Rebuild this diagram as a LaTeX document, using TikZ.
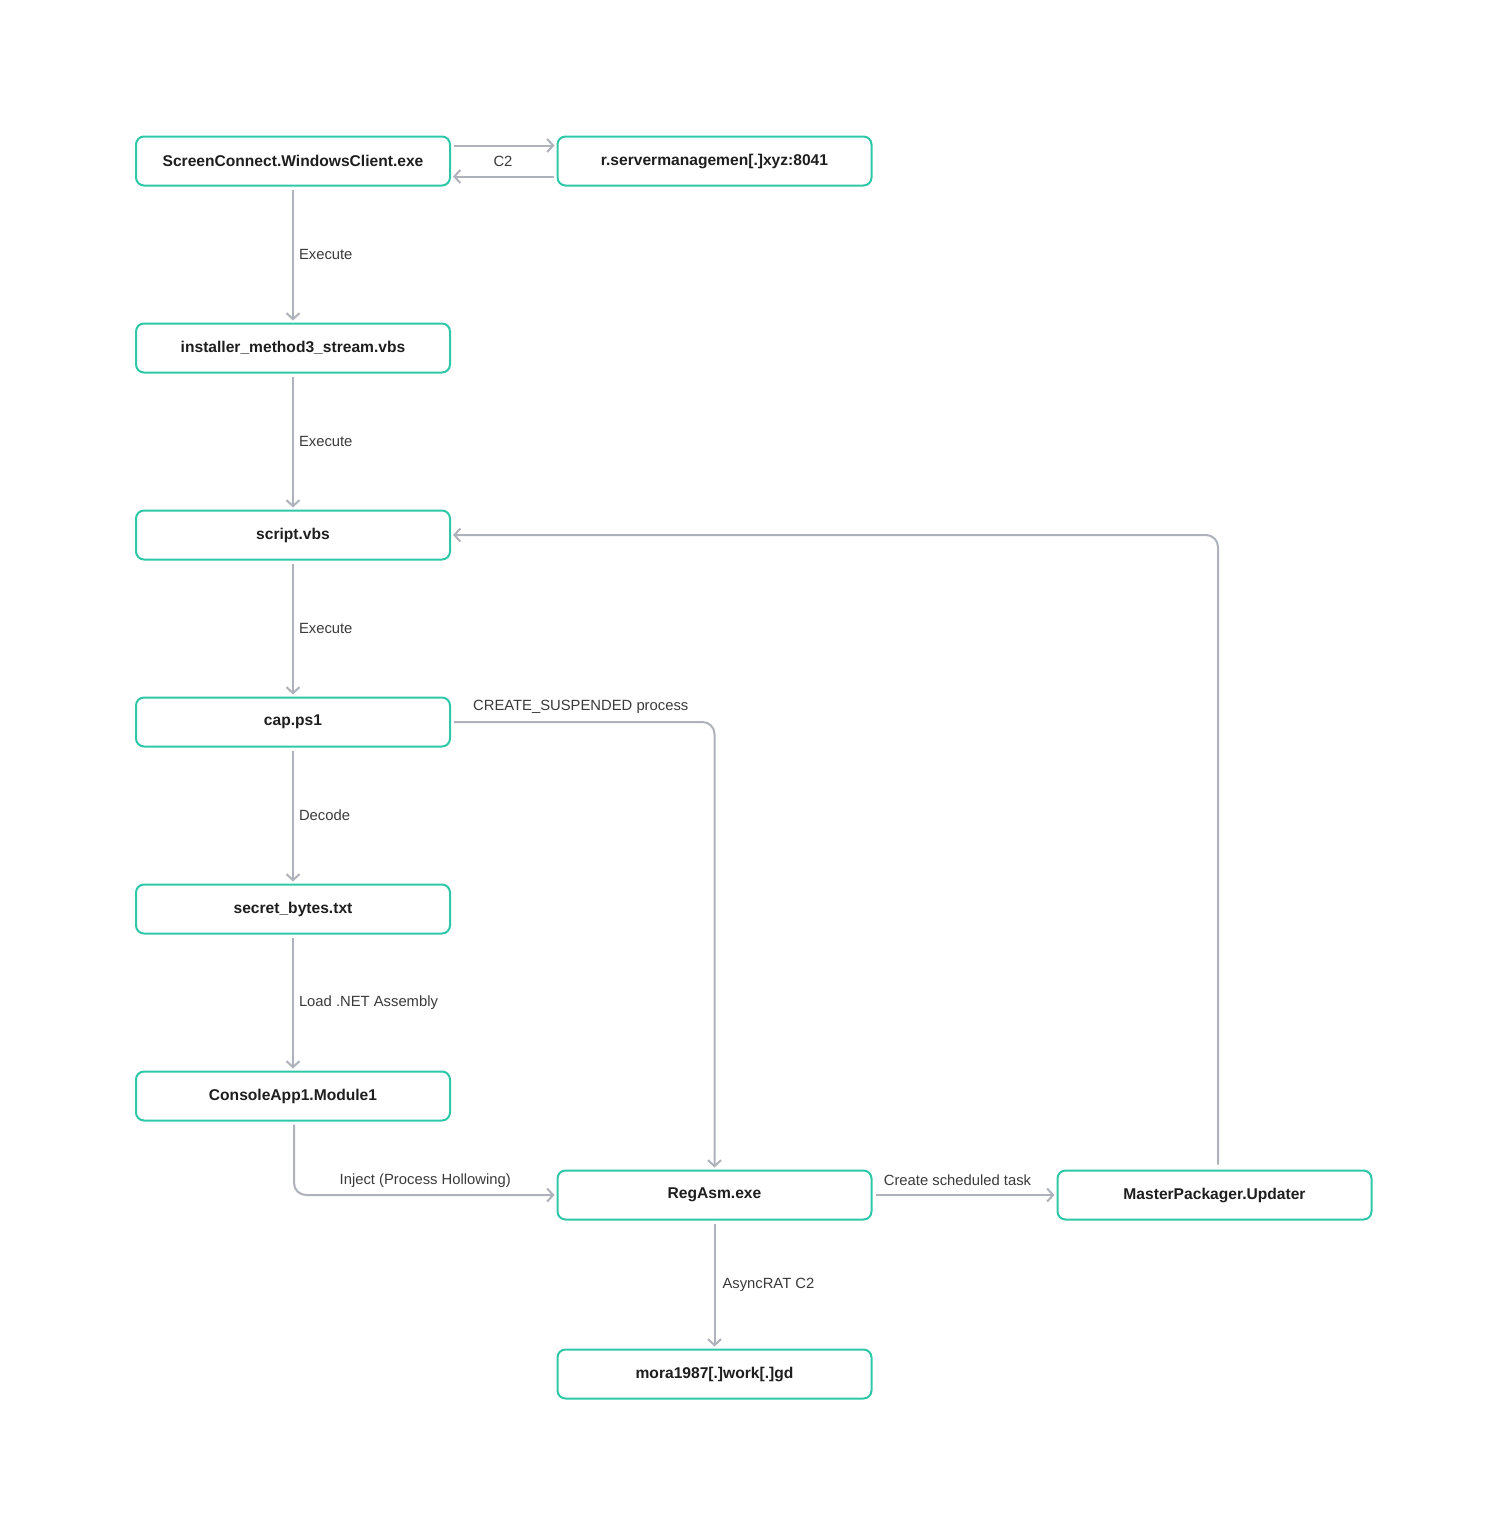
\documentclass[tikz,border=0pt]{standalone}
\usepackage{fontspec}
\setmainfont{Liberation Sans}
\usetikzlibrary{arrows.meta,calc,positioning}
\definecolor{boxteal}{HTML}{2EC7A8}
\definecolor{linegray}{HTML}{AEB2BA}
\definecolor{textdark}{HTML}{1E1E1E}
\definecolor{labelgray}{HTML}{3A3A3A}

\begin{document}
\begin{tikzpicture}[x=1pt, y=-1pt,
    box/.style={draw=boxteal, line width=2pt, rounded corners=8pt, minimum width=314pt, minimum height=49pt,
        inner sep=0pt, font=\bfseries\fontsize{15.6}{18}\selectfont, text=textdark},
    flow/.style={draw=linegray, line width=2pt, -{Straight Barb[length=6pt, width=13pt]}, shorten >=2pt, shorten <=3pt},
    lbl/.style={font=\fontsize{14.8}{18}\selectfont, text=labelgray, inner sep=0pt}]
    \useasboundingbox (0,0) rectangle (1508,1534);

    \node[box] (sc) at (293,161) {ScreenConnect.WindowsClient.exe};
    \node[box] (srv) at (714.5,161) {r.servermanagemen[.]xyz:8041};
    \node[box] (inst) at (293,348) {installer\_method3\_stream.vbs};
    \node[box] (svbs) at (293,535) {script.vbs};
    \node[box] (cap) at (293,722) {cap.ps1};
    \node[box] (sec) at (293,909) {secret\_bytes.txt};
    \node[box] (con) at (293,1096) {ConsoleApp1.Module1};
    \node[box] (reg) at (714.5,1195) {RegAsm.exe};
    \node[box] (mpu) at (1214.5,1195) {MasterPackager.Updater};
    \node[box] (mora) at (714.5,1374) {mora1987[.]work[.]gd};

    % C2 channel
    \draw[flow] ([yshift=15.5pt]sc.east) -- ([yshift=15.5pt]srv.west);
    \draw[flow] ([yshift=-15.5pt]srv.west) -- ([yshift=-15.5pt]sc.east);
    \node[lbl] (c2) at (503,161) {C2};

    % execution chain
    \draw[flow] (sc) -- (inst) node[lbl, midway, right=5pt] {Execute};
    \draw[flow] (inst) -- (svbs) node[lbl, midway, right=5pt] {Execute};
    \draw[flow] (svbs) -- (cap) node[lbl, midway, right=5pt] {Execute};
    \draw[flow] (cap) -- (sec) node[lbl, midway, right=5pt] {Decode};
    \draw[flow] (sec) -- (con) node[lbl, midway, right=5pt] {Load .NET Assembly};

    \draw[flow, rounded corners=12pt] (cap.east) -| (reg.north)
        node[lbl, pos=0.25, above=7pt, xshift=-2pt] {CREATE\_SUSPENDED process};
    \draw[flow, rounded corners=12pt] ([xshift=1pt]con.south) |- (reg.west)
        node[lbl, pos=0.75, above=6pt] {Inject (Process Hollowing)};
    \draw[flow] (reg) -- (mpu) node[lbl, midway, above=8pt, xshift=-7pt] {Create scheduled task};
    \draw[flow] (reg) -- (mora) node[lbl, midway, right=7pt] {AsyncRAT C2};

    % persistence loop
    \draw[flow, rounded corners=12pt, shorten <=5pt] ([xshift=3.5pt]mpu.north) -- ([xshift=3.5pt]mpu.north |- svbs.east) -- (svbs.east);
\end{tikzpicture}
\end{document}
